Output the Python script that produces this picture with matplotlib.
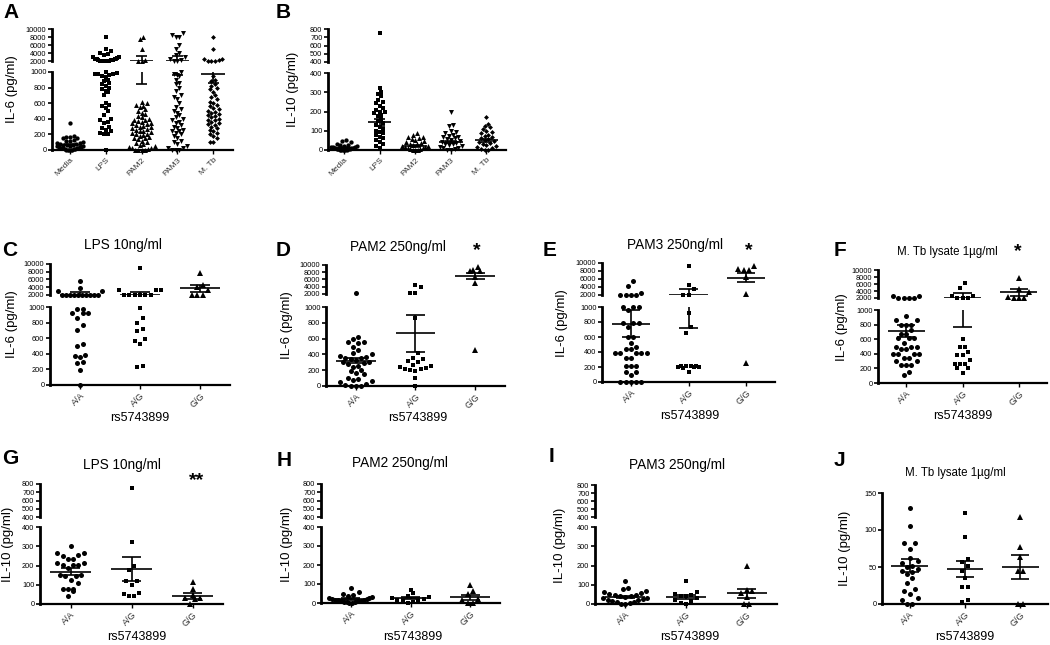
import numpy as np
import matplotlib
matplotlib.use("Agg")
import matplotlib.pyplot as plt

plt.rcParams["font.family"] = ["Liberation Sans", "DejaVu Sans"]

W, H = 1050, 645  # output size in pixels at dpi 100

STIM = ["Media", "LPS", "PAM2", "PAM3", "M. Tb"]
GENO = ["A/A", "A/G", "G/G"]

# A: IL-6 (pg/ml) by stimulus
A_MEDIA = [350, 175, 170, 165, 160, 150, 130, 120, 110, 100, 95, 90, 80, 75, 70, 65, 60, 55,
           50, 45, 40, 40, 35, 30, 30, 25, 20, 20, 15, 10, 10, 5, 5, 0, 0, 0]
A_LPS = [8000, 5000, 4500, 4000, 3800, 3500, 3000, 3000, 2800, 2600, 2500, 2400, 2300, 2200,
         2200, 2100, 2100, 2000, 2000, 2000, 2000,
         1000, 990, 980, 980, 970, 960, 950, 940, 900, 880, 860, 850, 820, 800, 780, 760, 750,
         700, 600, 580, 560, 540, 500, 450, 400, 380, 360, 350, 300, 280, 260, 250, 220, 210, 200, 0]
A_PAM2 = [8000, 7500, 5000, 2200, 2100, 2000,
          620, 600, 580, 560, 550, 520, 500, 480, 460, 440, 420, 400, 390, 380, 370, 360, 350,
          340, 330, 320, 310, 300, 290, 280, 270, 260, 250, 240, 230, 220, 210, 200, 190, 180,
          170, 160, 150, 140, 120, 100, 90, 80, 60, 50, 40, 30, 20, 10, 5, 0, 0, 0]
A_PAM3 = [9000, 8500, 8000, 8000, 6000, 5000, 4000, 3500, 3000, 2500, 2200, 2100, 2000,
          1000, 980, 960, 950, 900, 860, 840, 800, 760, 700, 680, 650, 600, 550, 520, 500, 480,
          450, 420, 400, 380, 360, 350, 320, 300, 280, 260, 250, 240, 220, 200, 180, 150, 120,
          100, 80, 50, 30, 20, 0, 0, 0]
A_MTB = [8000, 5000, 2500, 2400, 2200, 2100, 2000, 2000,
         950, 900, 880, 850, 820, 800, 780, 750, 700, 680, 650, 620, 600, 580, 560, 540, 520,
         500, 490, 480, 460, 450, 440, 420, 400, 390, 380, 360, 350, 330, 320, 300, 280, 260,
         240, 220, 200, 180, 150, 100, 100]
A_MEAN = [70, 2100, 2050, 2050, 975]
A_SEM = [12, 250, 1200, 1090, 110]

# B: IL-10 (pg/ml) by stimulus
B_MEDIA = [50, 45, 40, 30, 28, 25, 22, 20, 18, 15, 15, 12, 10, 10, 8, 8, 5, 5, 5, 3, 2, 0, 0, 0, 0, 0]
B_LPS = [750, 320, 300, 290, 280, 260, 250, 245, 230, 220, 210, 200, 195, 190, 180, 175, 160,
         150, 140, 130, 120, 110, 100, 95, 90, 80, 70, 60, 50, 40, 30, 20, 10]
B_PAM2 = [90, 80, 70, 65, 60, 55, 50, 45, 40, 35, 30, 30, 25, 20, 20, 15, 15, 10, 10, 5, 5, 0, 0, 0]
B_PAM3 = [200, 130, 125, 100, 95, 90, 80, 75, 70, 65, 60, 55, 50, 45, 40, 35, 30, 30, 25, 20,
          15, 10, 10, 5, 0, 0]
B_MTB = [170, 135, 125, 120, 110, 100, 95, 90, 80, 75, 70, 60, 55, 50, 45, 40, 35, 30, 25, 20,
         15, 10, 5, 0, 0]
B_MEAN = [12, 145, 22, 42, 50]
B_SEM = [3, 18, 5, 7, 8]

# C-F: IL-6 (pg/ml) by rs5743899 genotype
C_AA = [5500, 3800, 3000, 3000] + [2000] * 10 + [980, 980, 920, 920, 920, 860, 770, 710, 520,
                                                 500, 380, 370, 360, 290, 280, 190, 0]
C_AG = [8900, 3300, 3300, 3300] + [2000] * 6 + [990, 860, 790, 720, 690, 590, 560, 530, 245, 235]
C_GG = [7800, 4500, 4000, 3300, 2100, 2100, 2100]
C_MEAN = [2100, 2100, 3700]
C_SEM = [600, 700, 900]

D_AA = [2200, 620, 600, 560, 560, 540, 500, 450, 420, 400, 380, 370, 360, 350, 340, 330, 310,
        300, 290, 280, 250, 240, 200, 190, 160, 150, 100, 90, 80, 60, 50, 20, 10, 0, 0, 0]
D_AG = [4600, 3800, 2200, 2200, 860, 420, 360, 340, 320, 300, 270, 250, 240, 230, 220, 210,
        200, 190, 100, 0]
D_GG = [9500, 8400, 8300, 8500, 6800, 5100, 450]
D_MEAN = [320, 665, 6900]
D_SEM = [35, 235, 900]

E_AA = [5500, 4200, 2600, 2000, 2000, 2000, 2000,
        1000, 1000, 1000, 960, 790, 790, 790, 730, 600, 600, 520, 470, 440, 440, 390, 390, 390,
        390, 390, 320, 320, 210, 210, 210, 140, 140, 100, 0, 0, 0, 0, 0]
E_AG = [9200, 4500, 3400, 2100, 2000, 920, 730, 660, 220, 220, 210, 210, 200, 200, 200, 190, 130]
E_GG = [9200, 8200, 8200, 8400, 6400, 2250, 250]
E_MEAN = [780, 2050, 6300]
E_SEM = [180, 1330, 1100]

F_AA = [2700, 2600, 2000, 2000, 2000, 2000,
        920, 860, 860, 790, 790, 790, 730, 670, 670, 610, 610, 610, 550, 500, 500, 500, 460,
        460, 400, 400, 400, 400, 340, 340, 300, 300, 240, 240, 240, 150, 105]
F_AG = [6400, 4800, 2700, 2600, 2000, 2000, 2000,
        600, 500, 500, 430, 380, 380, 310, 260, 260, 260, 200, 200, 140]
F_GG = [7700, 4500, 3800, 2300, 2100, 2100, 2100]
F_MEAN = [715, 2050, 3600]
F_SEM = [85, 1280, 900]

# G-J: IL-10 (pg/ml) by rs5743899 genotype
G_AA = [300, 265, 265, 255, 250, 235, 235, 215, 215, 205, 205, 205, 185, 150, 150, 145, 145,
        125, 110, 80, 80, 80, 65, 40]
G_AG = [750, 320, 200, 175, 120, 120, 100, 55, 50, 40, 40]
G_GG = [115, 80, 45, 30, 30, 25, 0]
G_MEAN = [168, 180, 42]
G_SEM = [17, 62, 15]

H_AA = [80, 60, 45, 40, 35, 30, 25, 25, 20, 20, 15, 15, 15, 10, 10, 10, 5, 5, 5, 0, 0]
H_AG = [70, 55, 35, 30, 25, 20, 15, 10, 10, 5, 0]
H_GG = [95, 65, 45, 20, 15, 0, 0]
H_MEAN = [20, 25, 30]
H_SEM = [5, 6, 13]

I_AA = [120, 85, 80, 65, 60, 55, 50, 45, 45, 40, 40, 35, 30, 30, 25, 20, 20, 15, 10, 10, 5, 0, 0]
I_AG = [120, 60, 50, 45, 40, 40, 30, 20, 15, 5, 0]
I_GG = [195, 75, 65, 55, 35, 0, 0]
I_MEAN = [38, 38, 55]
I_SEM = [6, 10, 25]

J_AA = [130, 105, 83, 82, 75, 62, 58, 55, 52, 50, 47, 45, 43, 40, 35, 28, 20, 18, 13, 8, 5, 0, 0]
J_AG = [123, 90, 61, 57, 52, 44, 35, 23, 23, 5, 3]
J_GG = [117, 77, 64, 44, 44, 0, 0]
J_MEAN = [52, 47, 50]
J_SEM = [9, 11, 16]

IL6 = dict(lo_top=1000, up_bot=2000, up_top=10000,
           lo_ticks=[0, 200, 400, 600, 800, 1000], up_ticks=[2000, 4000, 6000, 8000, 10000])
IL10 = dict(lo_top=400, up_bot=400, up_top=800,
            lo_ticks=[0, 100, 200, 300, 400], up_ticks=[400, 500, 600, 700, 800])
GENO_MK = ["o", "s", "^"]

PANELS = [
    dict(letter="A", lpos=(11, 12), x=(52, 233), upper=(29, 61), lower=(72, 150), **IL6,
         cats=STIM, xlim=(-0.5, 4.55), groups=[A_MEDIA, A_LPS, A_PAM2, A_PAM3, A_MTB],
         markers=["o", "s", "^", "v", "D"], mean=A_MEAN, sem=A_SEM, ms=3.1, d=3.2,
         ylabel="IL-6 (pg/ml)", ylpos=(12, 89), catsize=6),
    dict(letter="B", lpos=(283, 12), x=(328, 506), upper=(29, 62), lower=(73, 150), **IL10,
         cats=STIM, xlim=(-0.45, 4.55), groups=[B_MEDIA, B_LPS, B_PAM2, B_PAM3, B_MTB],
         markers=["o", "s", "^", "v", "D"], mean=B_MEAN, sem=B_SEM, ms=3.1, d=3.2,
         ylabel="IL-10 (pg/ml)", ylpos=(293, 89), catsize=6),
    dict(letter="C", lpos=(10, 251), x=(50, 230), upper=(264, 295), lower=(307, 385), **IL6,
         groups=[C_AA, C_AG, C_GG], mean=C_MEAN, sem=C_SEM, ylabel="IL-6 (pg/ml)",
         ylpos=(12, 324), title=("LPS 10ng/ml", 123, 245, 9.8), xlpos=(140, 418)),
    dict(letter="D", lpos=(283, 250), x=(326, 505), upper=(265, 294), lower=(307, 386), **IL6,
         groups=[D_AA, D_AG, D_GG], mean=D_MEAN, sem=D_SEM, ylabel="IL-6 (pg/ml)",
         ylpos=(287, 325), title=("PAM2 250ng/ml", 398, 247, 9.8), star=("*", 477, 251),
         xlpos=(418, 418)),
    dict(letter="E", lpos=(550, 250), x=(602, 775), upper=(263, 295), lower=(307, 382), **IL6,
         groups=[E_AA, E_AG, E_GG], mean=E_MEAN, sem=E_SEM, ylabel="IL-6 (pg/ml)",
         ylpos=(562, 323), title=("PAM3 250ng/ml", 675, 245, 9.8), star=("*", 749, 251),
         xlpos=(690, 416)),
    dict(letter="F", lpos=(840, 250), x=(878, 1047), upper=(270, 298), lower=(310, 383), **IL6,
         groups=[F_AA, F_AG, F_GG], mean=F_MEAN, sem=F_SEM, ylabel="IL-6 (pg/ml)",
         ylpos=(842, 327), title=("M. Tb lysate 1µg/ml", 947, 252, 8.3), star=("*", 1018, 252),
         xlpos=(963, 416)),
    dict(letter="G", lpos=(10, 458), x=(40, 223), upper=(484, 517), lower=(527, 604), **IL10,
         groups=[G_AA, G_AG, G_GG], mean=G_MEAN, sem=G_SEM, ylabel="IL-10 (pg/ml)",
         ylpos=(8, 544), title=("LPS 10ng/ml", 122, 465, 9.8), star=("**", 197, 481),
         xlpos=(137, 637)),
    dict(letter="H", lpos=(284, 460), x=(321, 500), upper=(484, 517), lower=(527, 603), **IL10,
         groups=[H_AA, H_AG, H_GG], mean=H_MEAN, sem=H_SEM, ylabel="IL-10 (pg/ml)",
         ylpos=(287, 544), title=("PAM2 250ng/ml", 400, 463, 9.8), xlpos=(413, 637)),
    dict(letter="I", lpos=(552, 456), x=(595, 777), upper=(485, 517), lower=(527, 604), **IL10,
         groups=[I_AA, I_AG, I_GG], mean=I_MEAN, sem=I_SEM, ylabel="IL-10 (pg/ml)",
         ylpos=(560, 545), title=("PAM3 250ng/ml", 677, 465, 9.8), xlpos=(690, 637)),
    dict(letter="J", lpos=(839, 460), x=(882, 1048), upper=None, lower=(493, 604),
         lo_top=150, lo_ticks=[0, 50, 100, 150],
         groups=[J_AA, J_AG, J_GG], mean=J_MEAN, sem=J_SEM, ylabel="IL-10 (pg/ml)",
         ylpos=(845, 548), title=("M. Tb lysate 1µg/ml", 955, 473, 8.3), xlpos=(965, 637)),
]


def fig_xy(x, y):
    return x / W, 1 - y / H


def px_axes(fig, x0, x1, y0, y1):
    return fig.add_axes([x0 / W, 1 - y1 / H, (x1 - x0) / W, (y1 - y0) / H])


def swarm(py, d, max_w, row_k=1.3):
    """Prism-style column scatter: points within ~one marker height share a row,
    and each row is spread symmetrically about the category centre."""
    py = np.asarray(py, float)
    order = np.argsort(py, kind="stable")
    xs = np.zeros(len(py))
    rows, cur = [], []
    for idx in order:
        if cur and py[idx] - py[cur[0]] >= row_k * d:
            rows.append(cur)
            cur = []
        cur.append(idx)
    if cur:
        rows.append(cur)
    for row in rows:
        n = len(row)
        if n == 1:
            continue
        sp = min(1.15 * d, 2 * max_w / (n - 1))
        # centre-out so neighbouring values land on alternate sides
        slots = sorted(range(n), key=lambda k: abs(k - (n - 1) / 2))
        for idx, k in zip(row, slots):
            xs[idx] = (k - (n - 1) / 2) * sp
    return xs


def style_axis(ax, bottom, catsize):
    for s in ("top", "right"):
        ax.spines[s].set_visible(False)
    ax.spines["left"].set_linewidth(2.0)
    ax.tick_params(axis="y", direction="out", length=3, width=1.2, labelsize=5.3, pad=1)
    if bottom:
        ax.spines["bottom"].set_linewidth(1.6)
        ax.tick_params(axis="x", direction="out", length=3, width=1.0, labelsize=catsize,
                       pad=1.5, labelcolor="#333333")
    else:
        ax.spines["bottom"].set_visible(False)
        ax.set_xticks([])
    ax.patch.set_alpha(0)


def draw_panel(fig, p):
    x0, x1 = p["x"]
    lo_y, up_y = p["lower"], p["upper"]
    catsize = p.get("catsize", 6.5)
    cats = p.get("cats", GENO)
    xlim = p.get("xlim", (-0.5, 2.5))

    lo_ax = px_axes(fig, x0, x1, *lo_y)
    lo_ax.set_ylim(0, p["lo_top"])
    lo_ax.set_yticks(p["lo_ticks"])
    axes = [lo_ax]
    up_ax = None
    if up_y:
        up_ax = px_axes(fig, x0, x1, *up_y)
        up_ax.set_ylim(p["up_bot"], p["up_top"])
        up_ax.set_yticks(p["up_ticks"])
        axes.append(up_ax)
    for ax in axes:
        ax.set_xlim(*xlim)
        style_axis(ax, ax is lo_ax, catsize)
    lo_ax.set_xticks(range(len(cats)))
    lo_ax.set_xticklabels(cats, rotation=45, ha="right", rotation_mode="anchor")

    h_lo = lo_y[1] - lo_y[0]

    def to_px(v):
        if up_y is None or v <= p["lo_top"]:
            return v / p["lo_top"] * h_lo
        gap = lo_y[0] - up_y[1]
        h_up = up_y[1] - up_y[0]
        return h_lo + gap + (max(v, p["up_bot"]) - p["up_bot"]) / (p["up_top"] - p["up_bot"]) * h_up

    px_per_cat = (x1 - x0) / (xlim[1] - xlim[0])
    ms = p.get("ms", 3.6)
    d = p.get("d", 4.6)
    size_k = {"o": 1.0, "s": 0.9, "^": 1.15, "v": 1.15, "D": 0.8}
    markers = p.get("markers", GENO_MK)
    for i, (vals, mk) in enumerate(zip(p["groups"], markers)):
        vals = np.asarray(vals, float)
        offs = swarm([to_px(v) for v in vals], d, 0.36 * px_per_cat)
        xs = i + offs / px_per_cat
        low = vals <= p["lo_top"]
        kw = dict(ls="none", marker=mk, ms=ms * size_k[mk], color="black", mew=0, clip_on=False)
        lo_ax.plot(xs[low], vals[low], **kw)
        if up_ax is not None:
            up_ax.plot(xs[~low], vals[~low], **kw)
        m, s = p["mean"][i], p["sem"][i]
        for ax in axes:
            ax.hlines(m, i - 0.33, i + 0.33, color="black", lw=1.2)
            ax.vlines(i, m - s, m + s, color="black", lw=1.2)
            ax.hlines([m - s, m + s], i - 0.16, i + 0.16, color="black", lw=1.2)

    fig.text(*fig_xy(*p["lpos"]), p["letter"], fontsize=15, fontweight="bold",
             ha="center", va="center")
    fig.text(*fig_xy(*p["ylpos"]), p["ylabel"], fontsize=9.5, rotation=90,
             ha="center", va="center")
    if "title" in p:
        t, tx, ty, fs = p["title"]
        fig.text(*fig_xy(tx, ty), t, fontsize=fs, ha="center", va="center")
    if "star" in p:
        t, sx, sy = p["star"]
        fig.text(*fig_xy(sx, sy), t, fontsize=14, fontweight="bold", ha="center", va="center")
    if "xlpos" in p:
        fig.text(*fig_xy(*p["xlpos"]), "rs5743899", fontsize=9, ha="center", va="center")


fig = plt.figure(figsize=(W / 100, H / 100), dpi=100)
for panel in PANELS:
    draw_panel(fig, panel)
fig.savefig("out.png", dpi=100, facecolor="white")
